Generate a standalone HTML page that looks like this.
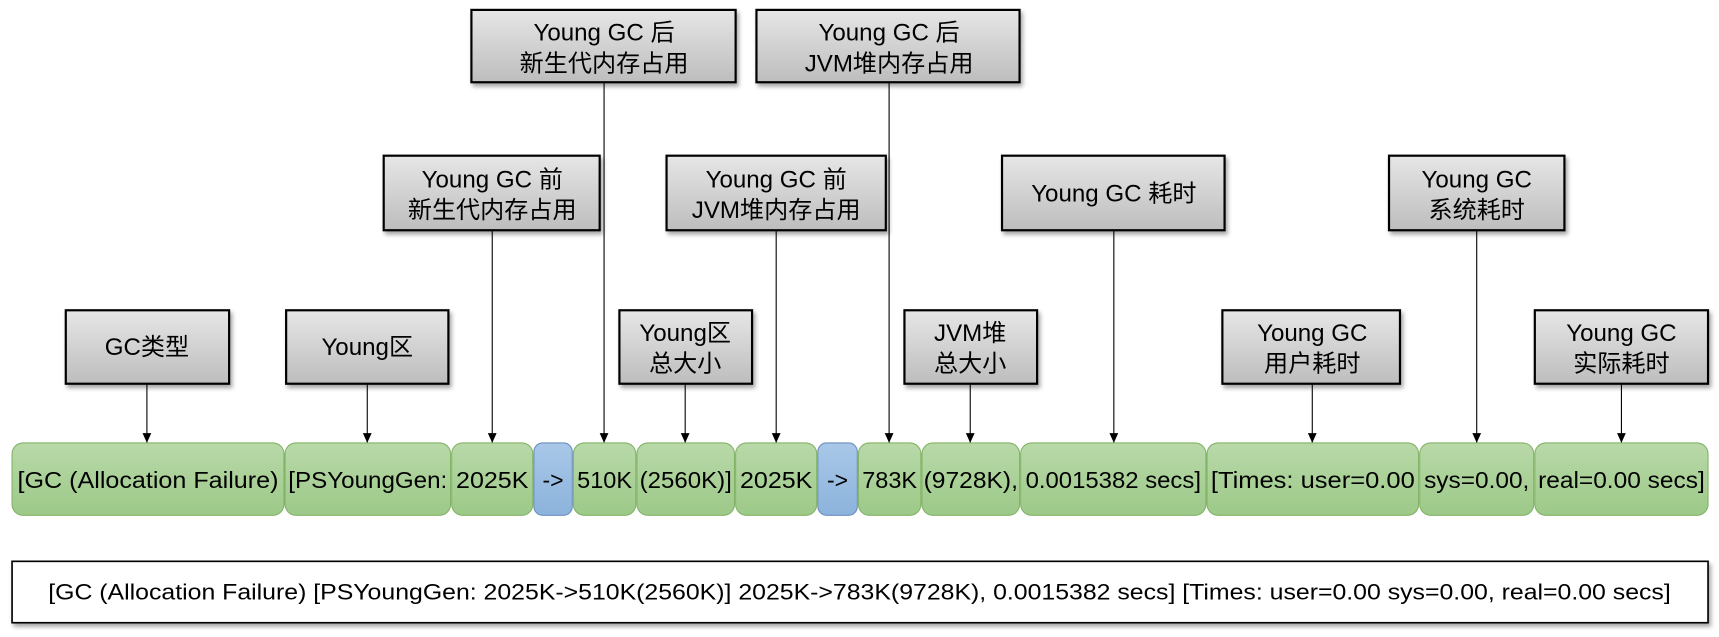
<!DOCTYPE html>
<html><head><meta charset="utf-8"><style>
html,body{margin:0;padding:0;background:#fff;}
svg{display:block;}
text{font-family:"Liberation Sans","Noto Sans CJK SC",sans-serif;fill:#000;}
</style></head><body>
<svg width="1719" height="637" viewBox="0 0 1568 581" xmlns="http://www.w3.org/2000/svg">
<defs>
<linearGradient id="gr" x1="0" y1="0" x2="0" y2="1"><stop offset="0" stop-color="#e6e6e6"/><stop offset="1" stop-color="#bdbdbd"/></linearGradient>
<linearGradient id="gn" x1="0" y1="0" x2="0" y2="1"><stop offset="0" stop-color="#b9d9a9"/><stop offset="1" stop-color="#9cc988"/></linearGradient>
<linearGradient id="bl" x1="0" y1="0" x2="0" y2="1"><stop offset="0" stop-color="#a9c8e8"/><stop offset="1" stop-color="#8cb3dc"/></linearGradient>
<filter id="sh" x="-10%" y="-10%" width="130%" height="140%"><feDropShadow dx="2" dy="3" stdDeviation="2" flood-color="#000" flood-opacity="0.35"/></filter>
<marker id="ar" markerWidth="10" markerHeight="10" refX="9" refY="5" orient="auto" markerUnits="userSpaceOnUse"><path d="M0,1 L9,5 L0,9 Z" fill="#000"/></marker>
</defs>
<g stroke="#000" stroke-width="1" marker-end="url(#ar)">
<line x1="134" y1="350" x2="134" y2="404"/>
<line x1="335" y1="350" x2="335" y2="404"/>
<line x1="449" y1="210" x2="449" y2="404"/>
<line x1="551" y1="75" x2="551" y2="404"/>
<line x1="625" y1="350" x2="625" y2="404"/>
<line x1="708" y1="210" x2="708" y2="404"/>
<line x1="811" y1="75" x2="811" y2="404"/>
<line x1="885" y1="350" x2="885" y2="404"/>
<line x1="1016" y1="210" x2="1016" y2="404"/>
<line x1="1197" y1="350" x2="1197" y2="404"/>
<line x1="1347" y1="210" x2="1347" y2="404"/>
<line x1="1479" y1="350" x2="1479" y2="404"/>
</g>
<g fill="url(#gr)" stroke="#000" stroke-width="2" filter="url(#sh)">
<rect x="60" y="283" width="149" height="67"/>
<rect x="261" y="283" width="148" height="67"/>
<rect x="350" y="142" width="197" height="68"/>
<rect x="430" y="9" width="241" height="66"/>
<rect x="565" y="283" width="121" height="67"/>
<rect x="608" y="142" width="200" height="68"/>
<rect x="690" y="9" width="240" height="66"/>
<rect x="825" y="283" width="121" height="67"/>
<rect x="914" y="142" width="203" height="68"/>
<rect x="1115" y="283" width="162" height="67"/>
<rect x="1267" y="142" width="160" height="68"/>
<rect x="1400" y="283" width="158" height="67"/>
</g>
<g font-size="22" text-anchor="middle">
<text x="134" y="324">GC类型</text>
<text x="335" y="324">Young区</text>
<text x="449" y="171">Young GC 前</text><text x="449" y="199">新生代内存占用</text>
<text x="551" y="37">Young GC 后</text><text x="551" y="65">新生代内存占用</text>
<text x="625" y="311">Young区</text><text x="625" y="339">总大小</text>
<text x="708" y="171">Young GC 前</text><text x="708" y="199">JVM堆内存占用</text>
<text x="811" y="37">Young GC 后</text><text x="811" y="65">JVM堆内存占用</text>
<text x="885" y="311">JVM堆</text><text x="885" y="339">总大小</text>
<text x="1016" y="184">Young GC 耗时</text>
<text x="1197" y="311">Young GC</text><text x="1197" y="339">用户耗时</text>
<text x="1347" y="171">Young GC</text><text x="1347" y="199">系统耗时</text>
<text x="1479" y="311">Young GC</text><text x="1479" y="339">实际耗时</text>
</g>
<g stroke="#82b366" stroke-width="1" fill="url(#gn)">
<rect x="11" y="404" width="248" height="66" rx="10"/>
<rect x="260" y="404" width="151" height="66" rx="10"/>
<rect x="412" y="404" width="74" height="66" rx="10"/>
<rect x="523" y="404" width="57" height="66" rx="10"/>
<rect x="581" y="404" width="89" height="66" rx="10"/>
<rect x="671" y="404" width="74" height="66" rx="10"/>
<rect x="783" y="404" width="57" height="66" rx="10"/>
<rect x="841" y="404" width="89" height="66" rx="10"/>
<rect x="931" y="404" width="169" height="66" rx="10"/>
<rect x="1101" y="404" width="193" height="66" rx="10"/>
<rect x="1295" y="404" width="104" height="66" rx="10"/>
<rect x="1400" y="404" width="158" height="66" rx="10"/>
</g>
<g stroke="#6c8ebf" stroke-width="1" fill="url(#bl)">
<rect x="487" y="404" width="35" height="66" rx="8"/>
<rect x="746" y="404" width="36" height="66" rx="8"/>
</g>
<g font-size="21" text-anchor="middle">
<text x="135" y="445" textLength="238" lengthAdjust="spacingAndGlyphs">[GC (Allocation Failure)</text>
<text x="335.5" y="445" textLength="145" lengthAdjust="spacingAndGlyphs">[PSYoungGen:</text>
<text x="449" y="445" textLength="66" lengthAdjust="spacingAndGlyphs">2025K</text>
<text x="504.5" y="445">-&gt;</text>
<text x="551.5" y="445" textLength="50" lengthAdjust="spacingAndGlyphs">510K</text>
<text x="625.5" y="445" textLength="84" lengthAdjust="spacingAndGlyphs">(2560K)]</text>
<text x="708" y="445" textLength="66" lengthAdjust="spacingAndGlyphs">2025K</text>
<text x="764" y="445">-&gt;</text>
<text x="811.5" y="445" textLength="50" lengthAdjust="spacingAndGlyphs">783K</text>
<text x="885.5" y="445" textLength="86" lengthAdjust="spacingAndGlyphs">(9728K),</text>
<text x="1015.5" y="445" textLength="160" lengthAdjust="spacingAndGlyphs">0.0015382 secs]</text>
<text x="1197.5" y="445" textLength="186" lengthAdjust="spacingAndGlyphs">[Times: user=0.00</text>
<text x="1347" y="445" textLength="96" lengthAdjust="spacingAndGlyphs">sys=0.00,</text>
<text x="1479" y="445" textLength="152" lengthAdjust="spacingAndGlyphs">real=0.00 secs]</text>
</g>
<rect x="11" y="512" width="1547" height="56" fill="#fff" stroke="#000" stroke-width="1.5" filter="url(#sh)"/>
<text x="784" y="547" font-size="20" text-anchor="middle" textLength="1480" lengthAdjust="spacingAndGlyphs">[GC (Allocation Failure) [PSYoungGen: 2025K-&gt;510K(2560K)] 2025K-&gt;783K(9728K), 0.0015382 secs] [Times: user=0.00 sys=0.00, real=0.00 secs]</text>
</svg>
</body></html>
